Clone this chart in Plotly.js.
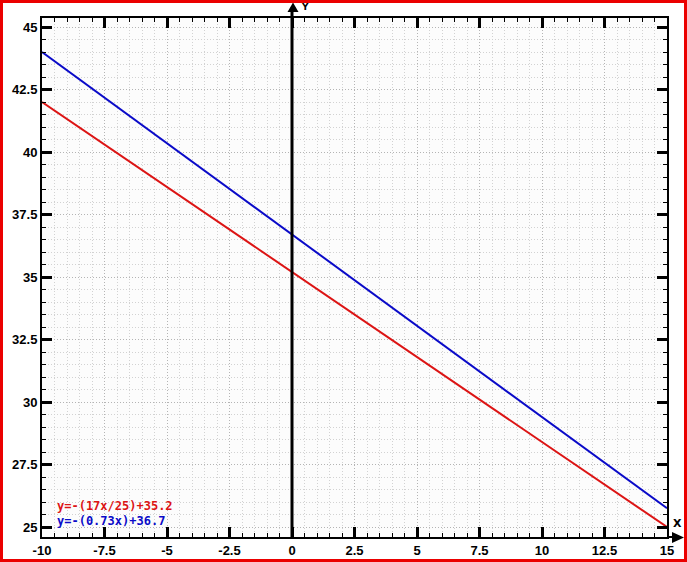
<!DOCTYPE html>
<html>
<head>
<meta charset="utf-8">
<script src="https://cdn.plot.ly/plotly-3.0.1.min.js"></script>
<style>html,body{margin:0;padding:0;background:#fff;}#chart{width:687px;height:562px;}</style>
</head>
<body>
<div id="chart"></div>
<script>
// Data
const xPoints = [-10, 0, 15];
const redY = [42, 35.2, 25];
const blueY = [44, 36.7, 25.75];
const seriesNames = ["y=-(17x/25)+35.2", "y=-(0.73x)+36.7"];
const xTickVals = [-10, -7.5, -5, -2.5, 0, 2.5, 5, 7.5, 10, 12.5, 15];
const xTickText = ["-10", "-7.5", "-5", "-2.5", "0", "2.5", "5", "7.5", "10", "12.5", "15"];
const yTickVals = [25, 27.5, 30, 32.5, 35, 37.5, 40, 42.5, 45];
const yTickText = ["25", "27.5", "30", "32.5", "35", "37.5", "40", "42.5", "45"];
const axisNames = ["X", "Y"];

const RED = "rgb(220,20,20)";
const BLUE = "rgb(10,10,200)";

const W = 687, H = 562;
const L = 42, R = 20, T = 18, B = 25;
const PW = W - L - R, PH = H - T - B;
const px = v => (v - L) / PW;          // pixel x -> paper
const py = v => (H - B - v) / PH;      // pixel y -> paper

const traces = [
  {x: xPoints, y: redY, mode: "lines", name: seriesNames[0], line: {color: RED, width: 2}, hoverinfo: "skip"},
  {x: xPoints, y: blueY, mode: "lines", name: seriesNames[1], line: {color: BLUE, width: 2}, hoverinfo: "skip"}
];

const tickFont = {family: "Liberation Sans, Arial, sans-serif", size: 13, color: "#000", weight: "bold"};

const axisCommon = {
  showline: true, linecolor: "#000", linewidth: 2, mirror: "ticks",
  ticks: "inside", ticklen: 10, tickwidth: 3, tickcolor: "#000",
  showgrid: true, gridcolor: "#b4b4b4", gridwidth: 1, griddash: "1px,2px",
  zeroline: false, tickfont: tickFont, fixedrange: true,
  minor: {dtick: 0.5, ticks: "inside", ticklen: 4, tickwidth: 1, tickcolor: "#000",
          showgrid: true, gridcolor: "#d2d2d2", gridwidth: 1, griddash: "1px,2px"}
};

const layout = {
  width: W, height: H,
  margin: {l: L, r: R, t: T, b: B, pad: 0},
  paper_bgcolor: "#ffffff",
  plot_bgcolor: "#fcfcfc",
  showlegend: false,
  xaxis: Object.assign({}, axisCommon, {range: [-10, 15], tickmode: "array", tickvals: xTickVals, ticktext: xTickText}),
  yaxis: Object.assign({}, axisCommon, {range: [24.6, 45.36], tickmode: "array", tickvals: yTickVals, ticktext: yTickText}),
  shapes: [
    {type: "line", xref: "x", yref: "paper", x0: 0, x1: 0, y0: 0, y1: py(11), line: {color: "#000", width: 3}},
    {type: "path", xref: "paper", yref: "paper",
     path: `M ${px(293)} ${py(2.5)} L ${px(287.5)} ${py(12)} L ${px(298.5)} ${py(12)} Z`,
     fillcolor: "#000", line: {color: "#000", width: 0}},
    {type: "line", xref: "paper", yref: "paper", x0: 1, x1: px(674), y0: 0, y1: 0, line: {color: "#000", width: 2}},
    {type: "path", xref: "paper", yref: "paper",
     path: `M ${px(684)} ${py(537.5)} L ${px(672)} ${py(532)} L ${px(672)} ${py(543)} Z`,
     fillcolor: "#000", line: {color: "#000", width: 0}},
    {type: "rect", xref: "paper", yref: "paper",
     x0: px(1.5), x1: px(685.5), y0: py(560.5), y1: py(1.5),
     line: {color: "rgb(235,0,0)", width: 3}, fillcolor: "rgba(0,0,0,0)"}
  ],
  annotations: [
    {xref: "paper", yref: "paper", x: px(55), y: py(506), xanchor: "left", yanchor: "middle", showarrow: false,
     text: seriesNames[0], font: {family: "DejaVu Sans Mono, monospace", size: 12, color: RED, weight: "bold"}},
    {xref: "paper", yref: "paper", x: px(55), y: py(521), xanchor: "left", yanchor: "middle", showarrow: false,
     text: seriesNames[1], font: {family: "DejaVu Sans Mono, monospace", size: 12, color: BLUE, weight: "bold"}},
    {xref: "paper", yref: "paper", x: px(677), y: py(523), xanchor: "center", yanchor: "middle", showarrow: false,
     text: axisNames[0], font: {family: "DejaVu Sans, sans-serif", size: 11, color: "#000", weight: "bold"}},
    {xref: "paper", yref: "paper", x: px(305), y: py(7), xanchor: "center", yanchor: "middle", showarrow: false,
     text: axisNames[1], font: {family: "DejaVu Sans, sans-serif", size: 9, color: "#000", weight: "bold"}}
  ]
};

Plotly.newPlot("chart", traces, layout, {displayModeBar: false, staticPlot: true});
</script>
</body>
</html>
